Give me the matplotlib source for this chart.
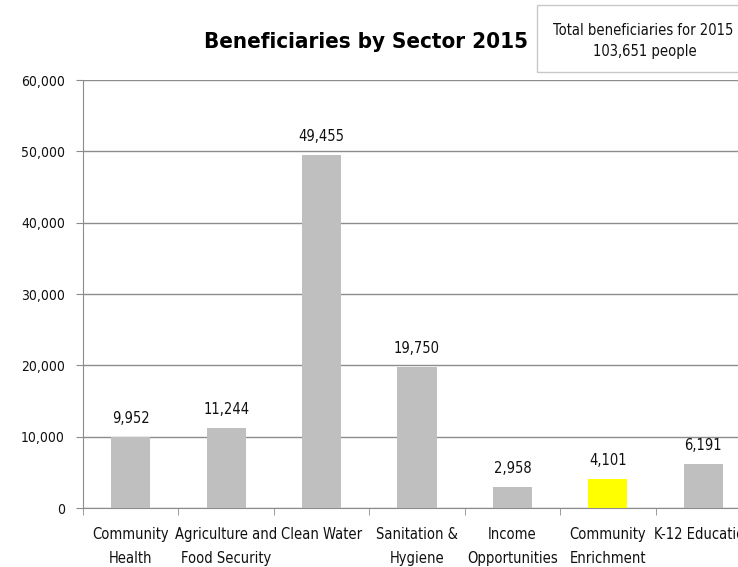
import numpy as np
import matplotlib
matplotlib.use("Agg")
import matplotlib.pyplot as plt
from matplotlib.patches import Rectangle

plt.rcParams["font.family"] = ["DejaVu Sans"]
plt.rcParams["font.stretch"] = "condensed"

sectors = ["Community\nHealth", "Agriculture and\nFood Security", "Clean Water",
           "Sanitation &\nHygiene", "Income\nOpportunities", "Community\nEnrichment",
           "K-12 Education"]
values = [9952, 11244, 49455, 19750, 2958, 4101, 6191]
colors = ["#bfbfbf", "#bfbfbf", "#bfbfbf", "#bfbfbf", "#bfbfbf", "#ffff00", "#bfbfbf"]
yticks = [0, 10000, 20000, 30000, 40000, 50000, 60000]

W, H = 738, 567
fig = plt.figure(figsize=(W / 100, H / 100), dpi=100)
ax = fig.add_axes([83 / W, 59 / H, 668 / W, 428 / H])

x = np.arange(len(sectors))
ax.bar(x, values, width=0.41, color=colors, zorder=3)
for xi, v in zip(x, values):
    ax.annotate(f"{v:,}", (xi, v), xytext=(0, 8), textcoords="offset points",
                ha="center", va="bottom", fontsize=10.5, color="#111111")

ax.set_xlim(-0.5, len(sectors) - 0.5)
ax.set_ylim(0, 60000)
ax.set_yticks(yticks)
ax.set_yticklabels([f"{t:,}" for t in yticks], fontsize=10, color="#111111")
ax.yaxis.grid(True, color="#8c8c8c", lw=1, zorder=0)

ax.set_xticks(x)
ax.set_xticklabels(sectors, fontsize=10.5, color="#111111", linespacing=1.75)
ax.tick_params(axis="x", length=0, pad=14)
ax.set_xticks(np.arange(len(sectors) + 1) - 0.5, minor=True)
ax.tick_params(axis="x", which="minor", length=5, color="#8c8c8c", direction="out")
ax.tick_params(axis="y", length=5, color="#8c8c8c", direction="out", pad=8)

for s in ["top", "right"]:
    ax.spines[s].set_visible(False)
for s in ["left", "bottom"]:
    ax.spines[s].set_color("#8c8c8c")

fig.text(366 / W, 1 - 48 / H, "Beneficiaries by Sector 2015", ha="center", va="baseline",
         fontsize=16, fontweight="bold")

fig.patches.append(Rectangle((537 / W, 1 - 72 / H), 210 / W, 67 / H,
                             transform=fig.transFigure, fc="white", ec="#c8c8c8", lw=1))
fig.text(643 / W, 1 - 35 / H, "Total beneficiaries for 2015", ha="center", va="baseline",
         fontsize=10.5, color="#111111")
fig.text(645 / W, 1 - 56 / H, "103,651 people", ha="center", va="baseline",
         fontsize=10.5, color="#111111")

fig.savefig("out.png", dpi=100)
